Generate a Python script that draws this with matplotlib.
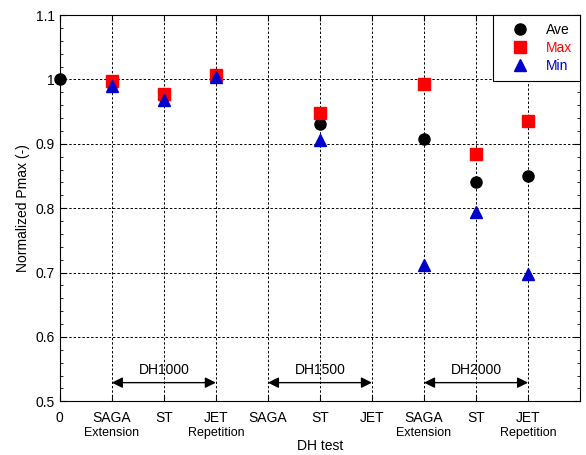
import numpy as np
import matplotlib.pyplot as plt
from matplotlib.ticker import MultipleLocator

plt.rcParams['font.family'] = ['Liberation Sans', 'DejaVu Sans']

# datos
x_ave = [0, 1, 2, 3, 5, 7, 8, 9]
ave = [1.000, 0.993, 0.972, 1.005, 0.931, 0.908, 0.840, 0.850]
x_mm = [1, 2, 3, 5, 7, 8, 9]
vmax = [0.998, 0.977, 1.007, 0.948, 0.993, 0.884, 0.935]
vmin = [0.990, 0.968, 1.003, 0.906, 0.711, 0.794, 0.698]

ticks = list(range(10))
tick_main = ["0", "SAGA", "ST", "JET", "SAGA", "ST", "JET", "SAGA", "ST", "JET"]
tick_sub = ["", "Extension", "", "Repetition", "", "", "", "Extension", "", "Repetition"]

grupos = ["DH1000", "DH1500", "DH2000"]
grupo_ini = [1, 4, 7]
grupo_fin = [3, 6, 9]

fig = plt.figure(figsize=(5.86, 4.55), dpi=100)
ax = fig.add_axes([0.102, 0.118, 0.888, 0.849])

ax.plot(x_ave, ave, 'o', color='black', ms=8, label='Ave', zorder=3, clip_on=False)
ax.plot(x_mm, vmax, 's', color='red', ms=8, label='Max', zorder=4)
ax.plot(x_mm, vmin, '^', color='#0000cc', ms=8, label='Min', zorder=5)

for nombre, a, b in zip(grupos, grupo_ini, grupo_fin):
    ax.annotate("", xy=(b, 0.529), xytext=(a, 0.529),
                arrowprops=dict(arrowstyle='<|-|>', color='black', lw=1,
                                mutation_scale=16, shrinkA=0, shrinkB=0))
    ax.text((a + b) / 2, 0.549, nombre, ha='center', va='center', fontsize=10)

ax.set_xlim(0, 10)
ax.set_ylim(0.5, 1.1)
ax.yaxis.set_minor_locator(MultipleLocator(0.02))
ax.set_yticks([0.5, 0.6, 0.7, 0.8, 0.9, 1.0, 1.1])
ax.set_yticklabels(["0.5", "0.6", "0.7", "0.8", "0.9", "1", "1.1"])
ax.set_xticks(ticks)
ax.set_xticklabels(tick_main)
ax.tick_params(which='both', direction='in', top=True, right=True, labelsize=10)
ax.tick_params(which='major', length=4)
ax.tick_params(axis='x', which='major', pad=7)
ax.tick_params(which='minor', length=2.5)

for xi, s in zip(ticks, tick_sub):
    if s:
        ax.text(xi, -0.083, s, transform=ax.get_xaxis_transform(),
                ha='center', va='center', fontsize=9)

ax.grid(True, which='major', color='black', linestyle=(0, (2.5, 2)), linewidth=0.7)
ax.set_axisbelow(True)

ax.set_xlabel("DH test", fontsize=10, labelpad=10)
ax.set_ylabel("Normalized Pmax (-)", fontsize=10)

leg = ax.legend(loc='upper right', fontsize=10, fancybox=False, framealpha=1,
                edgecolor='black', borderaxespad=0, handlelength=2.8,
                handletextpad=0.5, borderpad=0.55, labelspacing=0.3)
leg.get_frame().set_linewidth(0.8)
for txt, c in zip(leg.get_texts(), ['black', 'red', '#0000cc']):
    txt.set_color(c)

fig.savefig('out.png', dpi=100)
